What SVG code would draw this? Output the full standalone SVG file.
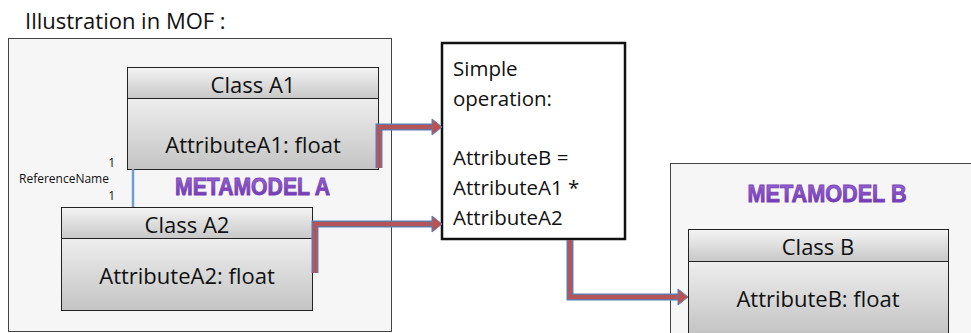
<svg xmlns="http://www.w3.org/2000/svg" width="971" height="333" viewBox="0 0 971 333">
<defs>
<style>
.t{font-family:"Open Sans","Liberation Sans",sans-serif;fill:#111}
.cn{font-size:22px}
.mm{font-family:"Liberation Sans",Arial,sans-serif;font-weight:bold;font-size:24px;fill:url(#purp);stroke:#7a42b8;stroke-width:0.9}
.cont{fill:#f6f6f6;stroke:#444;stroke-width:1}
.hdr{fill:url(#hg);stroke:#222;stroke-width:1}
.body{fill:url(#bg);stroke:#222;stroke-width:1}
.arr{fill:none;stroke:#4f81bd;stroke-width:7}
.arr2{fill:none;stroke:#c0504d;stroke-width:4.5;stroke-opacity:0.9}
.head{fill:#c0504d;stroke:#4f81bd;stroke-width:1}
</style>
<linearGradient id="hg" x1="0" y1="0" x2="0" y2="1"><stop offset="0" stop-color="#f4f4f4"/><stop offset="1" stop-color="#c8c8c8"/></linearGradient>
<linearGradient id="bg" x1="0" y1="0" x2="0" y2="1"><stop offset="0" stop-color="#eeeeee"/><stop offset="1" stop-color="#c4c4c4"/></linearGradient>
<linearGradient id="purp" x1="0" y1="0" x2="0" y2="1"><stop offset="0" stop-color="#a070dc"/><stop offset="1" stop-color="#6a2fa8"/></linearGradient>
</defs>
<rect width="971" height="333" fill="#ffffff"/>
<text class="t" x="25" y="29" font-size="22">Illustration in MOF :</text>

<g id="metamodelA">
<rect class="cont" x="8.5" y="38.5" width="383" height="293"/>
<text class="mm" x="252.5" y="195" text-anchor="middle" textLength="155" lengthAdjust="spacingAndGlyphs">METAMODEL A</text>
</g>

<g id="classA1">
<rect class="hdr" x="127.5" y="67.5" width="251" height="31"/>
<rect class="body" x="127.5" y="98.5" width="251" height="71"/>
<text class="t cn" x="253" y="93" text-anchor="middle">Class A1</text>
<text class="t cn" x="253" y="153" text-anchor="middle">AttributeA1: float</text>
</g>

<g id="classA2">
<rect class="hdr" x="61.5" y="207.5" width="251" height="31"/>
<rect class="body" x="61.5" y="238.5" width="251" height="72"/>
<text class="t cn" x="187" y="233" text-anchor="middle">Class A2</text>
<text class="t cn" x="187" y="284" text-anchor="middle">AttributeA2: float</text>
</g>

<g id="operation">
<rect x="442" y="43" width="183" height="196" fill="#ffffff" stroke="#111" stroke-width="2.5"/>
<text class="t" font-size="20.5"><tspan x="453" y="76">Simple</tspan><tspan x="453" y="106">operation:</tspan><tspan x="453" y="165">AttributeB =</tspan><tspan x="453" y="195">AttributeA1 *</tspan><tspan x="453" y="225">AttributeA2</tspan></text>
</g>

<g id="metamodelB">
<rect class="cont" x="670.5" y="163.5" width="310" height="180"/>
<text class="mm" x="827" y="202" text-anchor="middle" textLength="159" lengthAdjust="spacingAndGlyphs">METAMODEL B</text>
</g>

<g id="classB">
<rect class="hdr" x="688.5" y="229.5" width="260" height="32"/>
<rect class="body" x="688.5" y="261.5" width="260" height="72"/>
<text class="t cn" x="818" y="255" text-anchor="middle">Class B</text>
<text class="t cn" x="818" y="307" text-anchor="middle">AttributeB: float</text>
</g>

<g id="connectors">
<line x1="133" y1="169" x2="133" y2="207" stroke="#6a9fd0" stroke-width="2.5"/>
<text class="t" x="115" y="167" font-size="12" text-anchor="end">1</text>
<text class="t" x="19" y="183" font-size="12">ReferenceName</text>
<text class="t" x="115" y="200" font-size="12" text-anchor="end">1</text>
<path class="arr" d="M379,168 V127 H433"/>
<path class="arr2" d="M379,168 V127 H433"/>
<path class="head" d="M432,119 L442,127 L432,135 Z"/>
<path class="arr" d="M315,273 V224 H433"/>
<path class="arr2" d="M315,273 V224 H433"/>
<path class="head" d="M432,216 L442,224 L432,232 Z"/>
<path class="arr" d="M570,240 V297 H679"/>
<path class="arr2" d="M570,240 V297 H679"/>
<path class="head" d="M678,289 L688,297 L678,305 Z"/>
</g>
</svg>
